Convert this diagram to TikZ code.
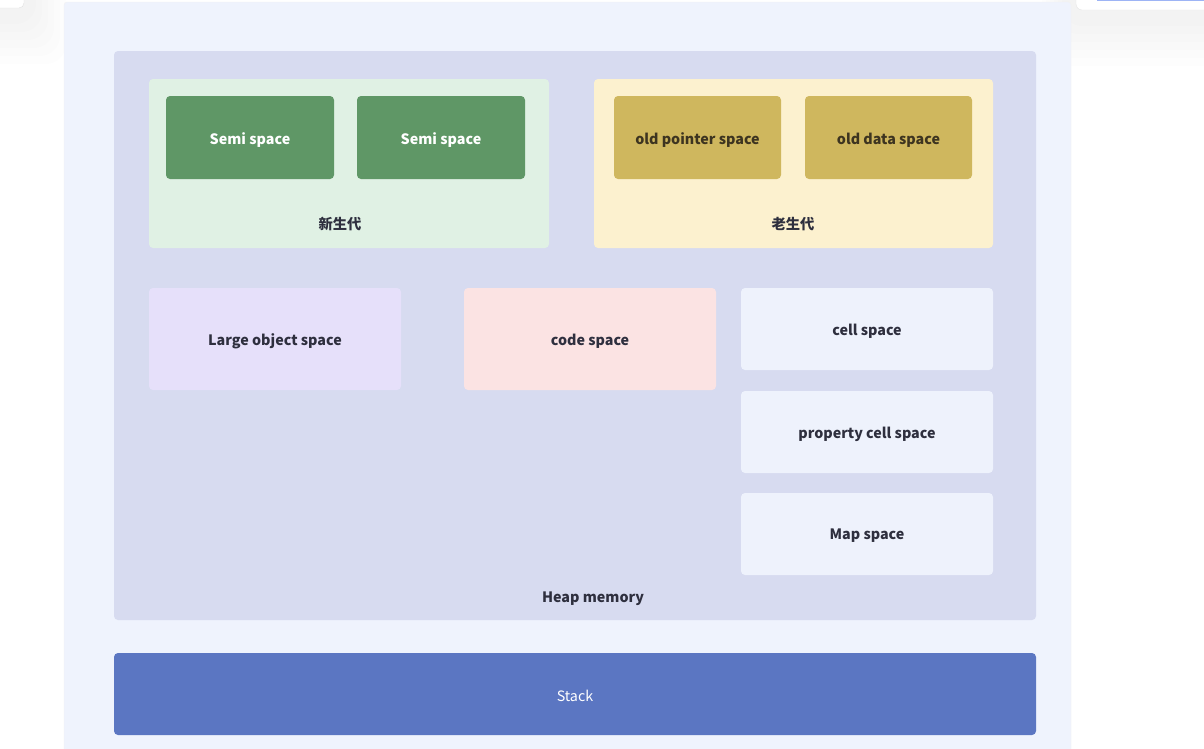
\documentclass[tikz,border=0pt]{standalone}
\usepackage{fontspec}
\setmainfont{Noto Sans CJK SC}
\definecolor{panelbg}{HTML}{EFF3FD}
\definecolor{heapbg}{HTML}{D7DBF0}
\definecolor{stackbg}{HTML}{5B76C2}
\definecolor{youngbg}{HTML}{E0F1E4}
\definecolor{semibg}{HTML}{5F9766}
\definecolor{oldbg}{HTML}{FCF1CF}
\definecolor{oldin}{HTML}{CFB75E}
\definecolor{largebg}{HTML}{E6E0FA}
\definecolor{codebg}{HTML}{FBE3E3}
\definecolor{cellbg}{HTML}{EEF2FC}
\definecolor{txtdark}{HTML}{2E2F3E}
\definecolor{txtold}{HTML}{3D3420}
\definecolor{uiblue}{HTML}{9DB4F5}
\begin{document}
\begin{tikzpicture}[x=1pt,y=-1pt,
  box/.style={rounded corners=4pt},
  lbl/.style={font=\fontsize{14.3}{16}\selectfont\bfseries, text=txtdark, inner sep=0pt},
]
\useasboundingbox (0,0) rectangle (1204,748);
\fill[white] (0,0) rectangle (1204,748);
% screenshot remnants
\foreach \i in {1,...,6}{
  \fill[black, opacity=0.006, rounded corners=20pt] (-40,-40) rectangle (30+6*\i,16+8*\i);
  \fill[black, opacity=0.006, rounded corners=20pt] (1066-4*\i,-40) rectangle (1240,18+8*\i);
}
\fill[white, draw=black!12, rounded corners=5pt] (-10,-10) rectangle (24,8);
\fill[white, draw=black!10, rounded corners=6pt] (1076,-10) rectangle (1214,10);
\fill[uiblue] (1097,-2) rectangle (1204,1);
% outer panel
\fill[panelbg, draw=black!5, rounded corners=3pt] (64,2) rectangle (1071,760);
% heap
\fill[heapbg, box] (114,51) rectangle (1036,620);
\node[lbl] (heap) at (593,599) {Heap memory};
% stack
\fill[stackbg, box] (114,653) rectangle (1036,735);
\node[font=\fontsize{14.3}{16}\selectfont, text=white, inner sep=0pt] (stack) at (575,696) {Stack};
% young
\fill[youngbg, box] (149,79) rectangle (549,248);
\node[lbl] (young) at (340,224) {新生代};
\fill[semibg, box] (166,96) rectangle (334,179);
\node[lbl, text=white] (semi1) at (250,140) {Semi space};
\fill[semibg, box] (357,96) rectangle (525,179);
\node[lbl, text=white] (semi2) at (441,140) {Semi space};
% old
\fill[oldbg, box] (594,79) rectangle (993,248);
\node[lbl] (old) at (793,224) {老生代};
\fill[oldin, box] (614,96) rectangle (781,179);
\node[lbl, text=txtold] (oldptr) at (697.5,140) {old pointer space};
\fill[oldin, box] (805,96) rectangle (972,179);
\node[lbl, text=txtold] (olddata) at (888.5,140) {old data space};
% others
\fill[largebg, box] (149,288) rectangle (401,390);
\node[lbl] (large) at (275,341) {Large object space};
\fill[codebg, box] (464,288) rectangle (716,390);
\node[lbl] (code) at (590,341) {code space};
\fill[cellbg, box] (741,288) rectangle (993,370);
\node[lbl] (cell) at (867,331) {cell space};
\fill[cellbg, box] (741,391) rectangle (993,473);
\node[lbl] (prop) at (867,434) {property cell space};
\fill[cellbg, box] (741,493) rectangle (993,575);
\node[lbl] (map) at (867,536) {Map space};
\end{tikzpicture}
\end{document}
